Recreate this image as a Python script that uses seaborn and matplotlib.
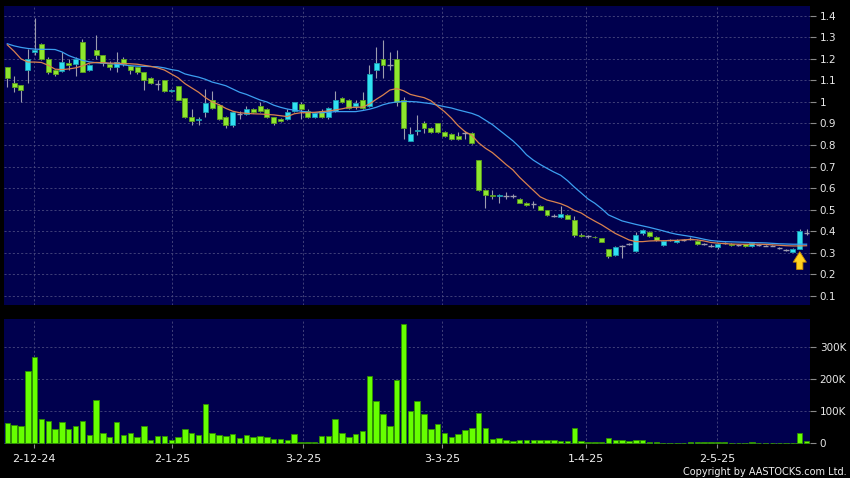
import numpy as np
import pandas as pd
import matplotlib
matplotlib.use('Agg')
import matplotlib.pyplot as plt
import seaborn as sns

# daily candles (oldest first)
opens = [1.16, 1.09, 1.08, 1.15, 1.23, 1.27, 1.20, 1.15, 1.145, 1.18,
         1.175, 1.28, 1.15, 1.24, 1.22, 1.175, 1.16, 1.20, 1.165, 1.16,
         1.14, 1.11, 1.085, 1.10, 1.05, 1.075, 1.02, 0.93, 0.915, 0.955,
         1.01, 0.985, 0.93, 0.895, 0.945, 0.945, 0.965, 0.98, 0.965, 0.93,
         0.92, 0.92, 0.96, 0.99, 0.96, 0.93, 0.96, 0.93, 0.96, 1.02,
         1.01, 0.98, 1.01, 0.98, 1.15, 1.20, 1.17, 1.20, 1.01, 0.82,
         0.865, 0.90, 0.88, 0.90, 0.86, 0.85, 0.84, 0.855, 0.855, 0.73,
         0.59, 0.57, 0.565, 0.565, 0.565, 0.55, 0.53, 0.525, 0.515, 0.50,
         0.472, 0.465, 0.475, 0.45, 0.385, 0.378, 0.375, 0.37, 0.32, 0.29,
         0.33, 0.34, 0.31, 0.39, 0.395, 0.375, 0.335, 0.36, 0.35, 0.36,
         0.365, 0.355, 0.34, 0.33, 0.325, 0.345, 0.343, 0.338, 0.34, 0.33,
         0.338, 0.334, 0.334, 0.322, 0.313, 0.305, 0.32, 0.39]
highs = [1.16, 1.12, 1.08, 1.245, 1.39, 1.275, 1.21, 1.155, 1.23, 1.20,
         1.21, 1.29, 1.175, 1.31, 1.22, 1.19, 1.23, 1.21, 1.17, 1.16,
         1.14, 1.115, 1.10, 1.10, 1.06, 1.075, 1.02, 0.965, 0.93, 1.06,
         1.05, 0.99, 0.935, 0.96, 0.96, 0.98, 0.97, 1.0, 0.97, 0.93,
         0.925, 0.965, 1.0, 1.0, 0.965, 0.955, 0.965, 0.975, 1.05, 1.025,
         1.015, 1.01, 1.045, 1.17, 1.255, 1.285, 1.23, 1.24, 1.025, 0.885,
         0.94, 0.91, 0.885, 0.90, 0.865, 0.855, 0.86, 0.865, 0.86, 0.73,
         0.595, 0.59, 0.575, 0.58, 0.575, 0.555, 0.535, 0.54, 0.52, 0.50,
         0.48, 0.515, 0.48, 0.47, 0.39, 0.385, 0.38, 0.37, 0.32, 0.33,
         0.335, 0.345, 0.395, 0.41, 0.40, 0.38, 0.36, 0.365, 0.365, 0.365,
         0.375, 0.36, 0.345, 0.34, 0.345, 0.35, 0.345, 0.343, 0.342, 0.35,
         0.343, 0.338, 0.338, 0.326, 0.318, 0.322, 0.41, 0.41]
lows = [1.07, 1.045, 1.0, 1.09, 1.22, 1.195, 1.13, 1.12, 1.14, 1.15,
        1.12, 1.14, 1.145, 1.20, 1.165, 1.15, 1.14, 1.165, 1.13, 1.13,
        1.055, 1.085, 1.055, 1.045, 1.045, 1.01, 0.925, 0.895, 0.895, 0.93,
        0.965, 0.915, 0.88, 0.885, 0.92, 0.94, 0.95, 0.955, 0.925, 0.895,
        0.905, 0.915, 0.955, 0.92, 0.925, 0.925, 0.925, 0.92, 0.955, 0.995,
        0.965, 0.965, 0.965, 0.975, 1.11, 1.11, 1.15, 0.98, 0.83, 0.82,
        0.845, 0.855, 0.855, 0.855, 0.835, 0.825, 0.825, 0.83, 0.805, 0.585,
        0.51, 0.55, 0.53, 0.55, 0.555, 0.53, 0.515, 0.51, 0.50, 0.47,
        0.465, 0.46, 0.455, 0.375, 0.375, 0.37, 0.37, 0.35, 0.275, 0.285,
        0.275, 0.335, 0.305, 0.385, 0.375, 0.355, 0.33, 0.355, 0.345, 0.355,
        0.36, 0.335, 0.335, 0.325, 0.32, 0.34, 0.33, 0.333, 0.328, 0.328,
        0.333, 0.33, 0.33, 0.318, 0.308, 0.303, 0.318, 0.385]
closes = [1.11, 1.07, 1.055, 1.20, 1.24, 1.20, 1.14, 1.13, 1.185, 1.17,
          1.20, 1.14, 1.17, 1.22, 1.18, 1.16, 1.185, 1.175, 1.15, 1.14,
          1.10, 1.09, 1.085, 1.05, 1.055, 1.01, 0.93, 0.91, 0.92, 0.995,
          0.97, 0.92, 0.895, 0.955, 0.945, 0.965, 0.955, 0.96, 0.93, 0.90,
          0.91, 0.955, 0.998, 0.965, 0.93, 0.95, 0.93, 0.97, 1.01, 1.0,
          0.97, 0.995, 0.97, 1.13, 1.18, 1.17, 1.17, 1.0, 0.88, 0.85,
          0.87, 0.88, 0.86, 0.86, 0.84, 0.83, 0.83, 0.855, 0.81, 0.59,
          0.57, 0.565, 0.57, 0.565, 0.565, 0.53, 0.52, 0.525, 0.50, 0.475,
          0.472, 0.48, 0.455, 0.385, 0.38, 0.378, 0.373, 0.35, 0.285, 0.325,
          0.33, 0.34, 0.385, 0.405, 0.38, 0.36, 0.355, 0.36, 0.36, 0.36,
          0.365, 0.34, 0.34, 0.33, 0.34, 0.345, 0.335, 0.338, 0.33, 0.345,
          0.338, 0.334, 0.334, 0.322, 0.313, 0.32, 0.40, 0.39]
# volume in thousands of shares
volume_k = [62, 56, 54, 224, 269, 75, 70, 44, 67, 46,
            54, 71, 25, 134, 33, 21, 67, 25, 31, 19,
            53, 12, 23, 24, 9, 21, 44, 31, 25, 124,
            32, 25, 23, 29, 17, 27, 21, 23, 19, 15,
            15, 12, 29, 4, 3, 3, 22, 22, 75, 31,
            19, 29, 38, 209, 133, 91, 55, 196, 370, 101,
            132, 92, 45, 59, 31, 20, 28, 41, 48, 96,
            47, 15, 17, 11, 7, 10, 9, 9, 10, 12,
            9, 7, 7, 48, 7, 3, 3, 3, 18, 9,
            9, 6, 12, 11, 4, 3, 1, 1, 2, 2,
            5, 3, 3, 5, 4, 3, 1, 2, 2, 3,
            1, 2, 2, 2, 2, 1, 31, 6]
# moving averages as drawn on the chart
ma_short = [1.265, 1.235, 1.20, 1.185, 1.185, 1.183, 1.17, 1.152, 1.150, 1.153,
            1.158, 1.167, 1.18, 1.183, 1.182, 1.18, 1.18, 1.178, 1.177, 1.175,
            1.17, 1.165, 1.158, 1.148, 1.13, 1.112, 1.085, 1.065, 1.045, 1.02,
            1.0, 0.987, 0.97, 0.957, 0.95, 0.947, 0.945, 0.944, 0.942, 0.94,
            0.936, 0.932, 0.945, 0.95, 0.95, 0.952, 0.955, 0.958, 0.963, 0.968,
            0.975, 0.975, 0.976, 0.99, 1.012, 1.032, 1.055, 1.062, 1.052, 1.035,
            1.027, 1.02, 1.006, 0.98, 0.955, 0.925, 0.89, 0.862, 0.845, 0.81,
            0.785, 0.765, 0.738, 0.71, 0.685, 0.65, 0.62, 0.59, 0.56, 0.545,
            0.537, 0.528, 0.515, 0.497, 0.485, 0.465, 0.447, 0.43, 0.41, 0.39,
            0.375, 0.36, 0.352, 0.352, 0.355, 0.356, 0.356, 0.357, 0.358, 0.36,
            0.362, 0.36, 0.355, 0.348, 0.345, 0.343, 0.341, 0.34, 0.34, 0.34,
            0.34, 0.339, 0.337, 0.335, 0.333, 0.332, 0.332, 0.333]
ma_long = [1.27, 1.26, 1.253, 1.248, 1.245, 1.244, 1.244, 1.243, 1.232, 1.215,
           1.203, 1.193, 1.186, 1.182, 1.18, 1.178, 1.175, 1.172, 1.168, 1.166,
           1.165, 1.164, 1.163, 1.158, 1.15, 1.145, 1.13, 1.122, 1.115, 1.105,
           1.092, 1.084, 1.075, 1.06, 1.045, 1.035, 1.022, 1.009, 1.0, 0.985,
           0.975, 0.967, 0.962, 0.957, 0.953, 0.95, 0.95, 0.952, 0.955, 0.955,
           0.955, 0.955, 0.96, 0.966, 0.975, 0.987, 0.995, 1.0, 1.002, 1.002,
           1.0, 0.996, 0.992, 0.985, 0.978, 0.972, 0.963, 0.955, 0.947, 0.935,
           0.915, 0.895, 0.87, 0.845, 0.82, 0.79, 0.755, 0.73, 0.71, 0.692,
           0.675, 0.66, 0.635, 0.605, 0.578, 0.55, 0.53, 0.505, 0.476, 0.462,
           0.448, 0.44, 0.432, 0.425, 0.418, 0.41, 0.402, 0.393, 0.386, 0.381,
           0.376, 0.37, 0.363, 0.357, 0.354, 0.352, 0.351, 0.35, 0.349, 0.348,
           0.347, 0.346, 0.344, 0.342, 0.341, 0.34, 0.34, 0.34]

date_labels = ['2-12-24', '2-1-25', '3-2-25', '3-3-25', '1-4-25', '2-5-25']
date_pos = [3.95, 24.15, 43.35, 63.6, 84.7, 103.9]
price_ticks = [0.1, 0.2, 0.3, 0.4, 0.5, 0.6, 0.7, 0.8, 0.9, 1.0, 1.1, 1.2, 1.3, 1.4]
vol_ticks = [0, 100000, 200000, 300000]
vol_labels = ['0', '100K', '200K', '300K']

df = pd.DataFrame({'o': opens, 'h': highs, 'l': lows, 'c': closes,
                   'vol': np.array(volume_k) * 1000,
                   'ma_short': ma_short, 'ma_long': ma_long})
df['i'] = np.arange(len(df))

navy = '#00004e'
grid_c = '#4a4a80'
green = '#8ee62e'
green_edge = '#5b9e1c'
cyan = '#30e0f2'
cyan_edge = '#1a9cb0'
wick = '#9c9cae'

fig = plt.figure(figsize=(8.5, 4.78), dpi=100, facecolor='black')
ax = fig.add_axes([4/850, 1 - 305/478, 806/850, 299/478], facecolor=navy)
axv = fig.add_axes([4/850, 1 - 444/478, 806/850, 125/478], facecolor=navy)

# candles
up = df['c'] > df['o']
down = df['c'] < df['o']
flat = df['c'] == df['o']
ax.vlines(df['i'], df['l'], df['h'], color=wick, lw=0.8, zorder=2)
ax.bar(df['i'][up], (df['c'] - df['o'])[up], bottom=df['o'][up], width=0.72,
       color=cyan, edgecolor=cyan_edge, lw=0.6, zorder=3)
ax.bar(df['i'][down], (df['o'] - df['c'])[down], bottom=df['c'][down], width=0.72,
       color=green, edgecolor=green_edge, lw=0.6, zorder=3)
ax.hlines(df['c'][flat], df['i'][flat] - 0.4, df['i'][flat] + 0.4, color=wick, lw=1.0, zorder=3)

sns.lineplot(data=df, x='i', y='ma_long', color='#3c9ff0', linewidth=0.9, ax=ax, zorder=5)
sns.lineplot(data=df, x='i', y='ma_short', color='#d9824e', linewidth=0.9, ax=ax, zorder=5)

# yellow arrow under the last big candle
ax.annotate('', xy=(116, 0.318), xytext=(116, 0.21),
            arrowprops=dict(arrowstyle='simple,head_width=0.95,head_length=0.75,tail_width=0.45',
                            fc='#ffd21f', ec='#c98a00', lw=0.6), zorder=6)

# volume
sns.barplot(data=df, x='i', y='vol', native_scale=True, color='#66ff00', saturation=1,
            width=0.8, edgecolor='#2f8f00', linewidth=0.6, ax=axv, zorder=3)

for a in (ax, axv):
    a.set_xlim(-0.48, 117.5)
    a.set_xlabel('')
    a.set_ylabel('')
    a.yaxis.tick_right()
    a.set_xticks(date_pos)
    a.grid(True, color=grid_c, linestyle=(0, (2.5, 2.5)), linewidth=0.6)
    a.set_axisbelow(True)
    for s in a.spines.values():
        s.set_visible(False)
    a.tick_params(axis='y', colors='#8a8a8a', labelcolor='#e8e8e8', labelsize=7.5,
                  length=4, width=0.8, pad=3, direction='out')

ax.set_ylim(0.058, 1.445)
ax.set_yticks(price_ticks)
ax.set_yticklabels([f'{t:g}' for t in price_ticks])
ax.tick_params(axis='x', length=0, labelbottom=False)

axv.set_ylim(-2000, 387000)
axv.set_yticks(vol_ticks)
axv.set_yticklabels(vol_labels)
axv.set_xticklabels(date_labels)
axv.tick_params(axis='x', colors='#8a8a8a', labelcolor='#f0f0f0', labelsize=8,
                length=3, width=0.8, pad=4, direction='out')

fig.text(0.996, 0.003, 'Copyright by AASTOCKS.com Ltd.', ha='right', va='bottom',
         color='#f0f0f0', fontsize=7)

fig.savefig('out.png', dpi=100, facecolor='black')
